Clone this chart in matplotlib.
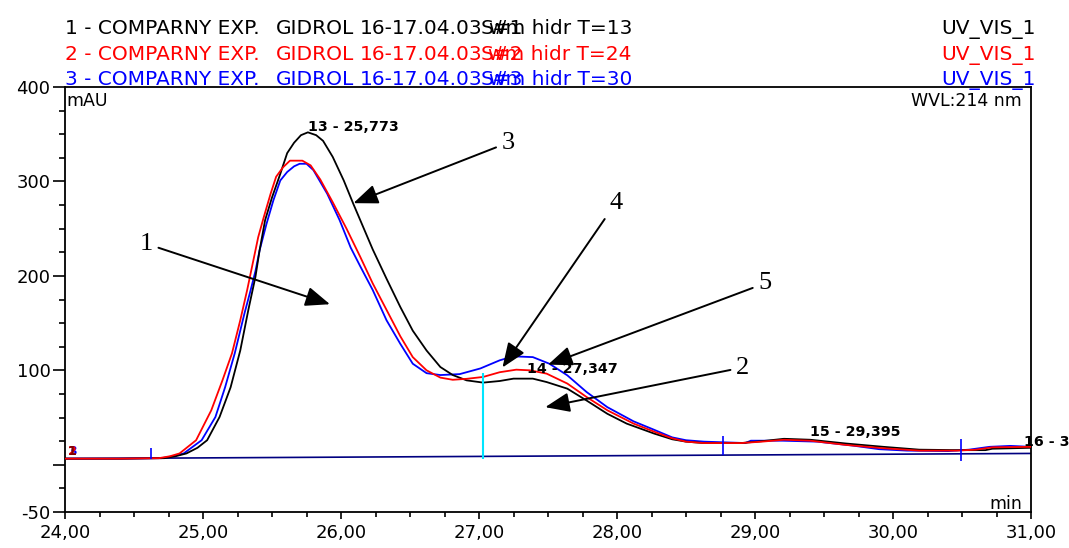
import matplotlib
matplotlib.use("Agg")
import matplotlib.pyplot as plt
from matplotlib.ticker import FixedLocator, MultipleLocator

# --- data (time in min, signal in mAU) ---
t1 = [24.00, 24.40, 24.72, 24.80, 24.88, 24.96, 25.03, 25.12, 25.20, 25.27, 25.33, 25.38,
      25.41, 25.45, 25.50, 25.56, 25.61, 25.66, 25.71, 25.76, 25.82, 25.87, 25.94, 26.02,
      26.09, 26.16, 26.23, 26.33, 26.43, 26.52, 26.62, 26.72, 26.81, 26.91, 27.03, 27.15,
      27.25, 27.39, 27.49, 27.64, 27.78, 27.93, 28.07, 28.27, 28.40, 28.50, 28.63, 28.90,
      29.05, 29.21, 29.40, 29.66, 29.93, 30.19, 30.46, 30.67, 30.72, 31.00]
s1 = [6.5, 6.5, 7, 9, 12, 18, 26, 50.6, 82, 121, 165, 199,
      227, 259, 283, 308, 330, 341, 349, 352, 349, 343, 326, 301,
      276, 252, 228, 197, 167, 142, 121, 103.5, 95, 89.4, 87, 88.7,
      91.2, 91.2, 87.6, 80.6, 68, 54, 43.6, 33, 27, 24.5, 23, 23,
      25, 27.5, 26.5, 22.5, 19, 16, 15.5, 15.5, 17, 18]

t2 = [24.00, 24.40, 24.68, 24.76, 24.83, 24.95, 25.06, 25.14, 25.21, 25.27, 25.32, 25.36,
      25.40, 25.44, 25.49, 25.53, 25.58, 25.63, 25.72, 25.78, 25.85, 25.94, 26.04, 26.14,
      26.23, 26.33, 26.43, 26.52, 26.62, 26.72, 26.81, 26.91, 27.03, 27.15, 27.27, 27.37,
      27.49, 27.64, 27.78, 27.93, 28.12, 28.27, 28.40, 28.50, 28.63, 28.90, 29.05, 29.21,
      29.40, 29.66, 29.93, 30.19, 30.46, 30.60, 30.72, 31.00]
s2 = [6.5, 6.5, 7, 9, 12, 26, 57.7, 89, 118, 153, 185, 213,
      241, 262, 287, 305, 315, 322, 322, 317, 302, 278, 250, 220,
      192, 164, 136, 114, 100, 92.3, 90, 91, 93, 98, 100.7, 100,
      96.5, 86, 71.7, 57.7, 43.6, 35, 28, 24.5, 23, 23, 24.5, 26.5,
      25.5, 21, 17.5, 15, 15, 16, 18.5, 19]

t3 = [24.00, 24.40, 24.70, 24.78, 24.86, 24.99, 25.09, 25.16, 25.23, 25.30, 25.34, 25.38,
      25.41, 25.46, 25.51, 25.56, 25.61, 25.66, 25.70, 25.75, 25.80, 25.90, 25.99, 26.07,
      26.14, 26.23, 26.33, 26.43, 26.52, 26.62, 26.72, 26.86, 27.01, 27.15, 27.25, 27.39,
      27.51, 27.64, 27.78, 27.93, 28.12, 28.27, 28.40, 28.50, 28.63, 28.93, 28.97, 29.20,
      29.45, 29.70, 29.90, 30.10, 30.40, 30.55, 30.70, 30.85, 31.00]
s3 = [6.5, 6.5, 7, 9, 12, 26, 50.6, 82, 118, 160, 182, 205,
      227, 255, 280, 301, 310, 316, 318.7, 318.7, 312, 287, 259, 230,
      210, 185, 153, 128, 107, 97, 95, 96, 102, 110.6, 114.8, 114,
      107, 94.7, 77, 61, 46, 37, 29, 26, 24.5, 23, 25.5, 25.5,
      24.5, 20.5, 16.5, 15, 14.5, 16, 19, 20, 19]

baseline_t = [24.0, 31.0]
baseline_v = [6.5, 12]

# peak delimiters (time, low, high)
delim_t = [24.62, 28.77, 30.49]
delim_lo = [6.5, 10, 4]
delim_hi = [17.5, 31, 27]
split_t = 27.03
split_hi = 97

peak_labels = ["13 - 25,773", "14 - 27,347", "15 - 29,395", "16 - 3"]
peak_t = [25.76, 27.345, 29.40, 30.95]
peak_v = [358, 101, 34.7, 24]

x_ticks = [24, 25, 26, 27, 28, 29, 30, 31]
y_ticks = [-50, 0, 100, 200, 300, 400]
y_labels = ["-50", "", "100", "200", "300", "400"]

trace_no = ["1", "2", "3"]
legend_ids = ["S#1", "S#2", "S#3"]
legend_tail = ["wm hidr T=13", "wm hidr T=24", "wm hidr T=30"]
colors = ["#000000", "#ff0000", "#0000ff"]

W, H = 1069, 548
fig = plt.figure(figsize=(W / 100, H / 100), dpi=100)
ax = fig.add_axes([65 / W, 1 - 512 / H, (1031 - 65) / W, (512 - 87) / H])

plt.rcParams['font.family'] = ['DejaVu Sans']

# curves
ax.plot(baseline_t, baseline_v, color="#000080", lw=1.2, zorder=1)
ax.plot(t1, s1, color=colors[0], lw=1.3, zorder=3)
ax.plot(t2, s2, color=colors[1], lw=1.3, zorder=4)
ax.plot(t3, s3, color=colors[2], lw=1.3, zorder=2)

ax.vlines(delim_t, delim_lo, delim_hi, color="#0000ff", lw=1.2, zorder=5)
ax.vlines([split_t], [baseline_v[0]], [split_hi], color="#00e5ff", lw=1.5, zorder=5)

for lab, tx, vy in zip(peak_labels, peak_t, peak_v):
    ax.text(tx, vy, lab, fontsize=10.3, fontweight="bold", ha="left", va="center",
            clip_on=False, zorder=6)

# overlapping trace numbers at the start
for lab, c in zip(["3", "2", "1"], ["#0000ff", "#ff0000", "#800000"]):
    ax.text(24.02, 14, lab, color=c, fontsize=9, fontweight="bold", ha="left", va="center")

ax.set_xlim(24, 31)
ax.set_ylim(-50, 400)
ax.xaxis.set_major_locator(FixedLocator(x_ticks))
ax.set_xticklabels([f"{v:.2f}".replace(".", ",") for v in x_ticks], fontsize=13)
ax.xaxis.set_minor_locator(MultipleLocator(0.25))
ax.yaxis.set_major_locator(FixedLocator(y_ticks))
ax.set_yticklabels(y_labels, fontsize=13)
ax.yaxis.set_minor_locator(MultipleLocator(25))
ax.tick_params(axis="y", which="major", length=8.5, width=1.2, pad=2)
ax.tick_params(axis="y", which="minor", length=4, width=1.2)
ax.tick_params(axis="x", which="major", length=5, width=1.2, pad=4)
ax.tick_params(axis="x", which="minor", length=3.5, width=1.2)
for sp in ax.spines.values():
    sp.set_linewidth(1.3)

ax.text(24.01, 385, "mAU", fontsize=12.5, ha="left", va="center")
ax.text(30.93, 385, "WVL:214 nm", fontsize=12.5, ha="right", va="center")
ax.text(30.94, -42, "min", fontsize=12.5, ha="right", va="center")

# numbered arrows
arrow_kw = dict(arrowstyle="-|>,head_length=1.0,head_width=0.4", color="black",
                lw=1.4, mutation_scale=15, shrinkA=2, shrinkB=0)
arrows = [("1", (24.59, 234), (25.92, 170)),
          ("3", (27.21, 341), (26.09, 277)),
          ("4", (27.99, 277), (27.17, 103)),
          ("5", (29.07, 192), (27.50, 106)),
          ("2", (28.91, 103), (27.48, 61))]
for lab, txt, tip in arrows:
    ax.annotate(lab, xy=tip, xytext=txt, fontsize=19, family="Liberation Serif",
                ha="center", va="center", arrowprops=arrow_kw, zorder=7)

# header lines, word groups placed where the instrument printout puts them
fs = 14.5
for i in range(3):
    y = 1 - (34 + 25.7 * i) / H
    kw = dict(color=colors[i], fontsize=fs, va="baseline")
    fig.text(65 / W, y, f"{trace_no[i]} - COMPARNY EXP.", ha="left", **kw)
    fig.text(276 / W, y, "GIDROL", ha="left", **kw)
    fig.text(360 / W, y, "16-17.04.03", ha="left", **kw)
    fig.text(481 / W, y, legend_ids[i], ha="left", **kw)
    fig.text(632 / W, y, legend_tail[i], ha="right", **kw)
    fig.text(1036 / W, y, "UV_VIS_1", ha="right", **kw)

fig.savefig("out.png", dpi=100)
